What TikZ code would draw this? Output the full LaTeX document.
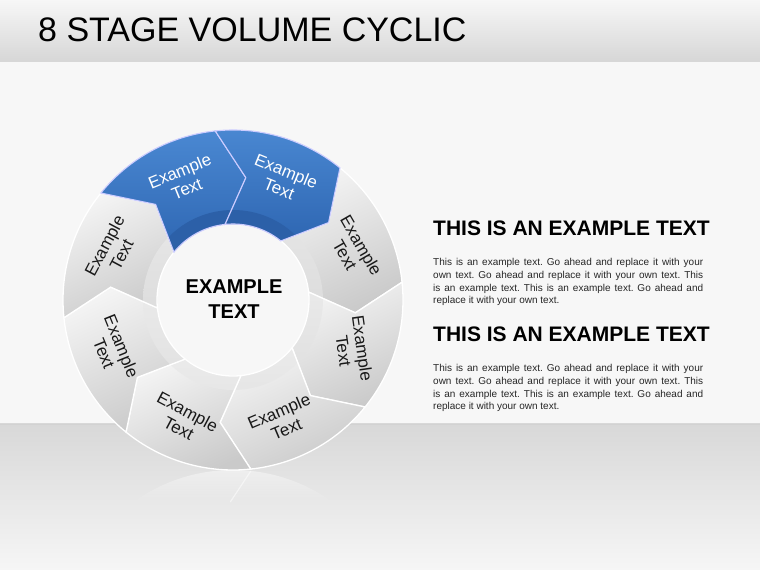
\documentclass[tikz,border=0pt]{standalone}
\usepackage{fontspec}
\setmainfont{Liberation Sans}
\usepackage{xcolor}
\usepackage{tikz}
\usetikzlibrary{calc,fadings}
\frenchspacing
\definecolor{bluehi}{HTML}{4A88D2}
\definecolor{bluelo}{HTML}{2E66B2}
\definecolor{bluebev}{HTML}{2C60A8}
\definecolor{grayhi}{HTML}{F4F4F4}
\definecolor{graylo}{HTML}{CACACA}
\definecolor{graybev}{HTML}{DCDCDC}
\definecolor{barhi}{HTML}{F7F7F7}
\definecolor{barlo}{HTML}{D6D6D6}
\definecolor{floorhi}{HTML}{D8D8D8}
\definecolor{floorlo}{HTML}{F6F6F6}
\definecolor{bodygray}{HTML}{262626}
\def\Ro{170} \def\Ri{76} \def\Rb{90} \def\Rm{123} \def\dd{6}
\tikzset{
  ringseg/.style={insert path={({#1+\dd}:\Ro) arc[start angle={#1+\dd}, end angle={#1-45+\dd}, radius=\Ro]
    -- ({#1-45-\dd}:\Rm) -- ({#1-45+\dd}:\Ri)
    arc[start angle={#1-45+\dd}, end angle={#1+\dd}, radius=\Ri] -- ({#1-\dd}:\Rm) -- cycle}},
  seglabel/.style={align=center, inner sep=0, font=\fontsize{17}{19}\selectfont},
  headtext/.style={anchor=base west, inner sep=0, font=\bfseries\fontsize{21}{24}\selectfont},
  bodytext/.style={anchor=base west, inner sep=0, text width=270pt, align=justify,
    text=bodygray, font=\fontsize{10}{12.6}\selectfont}
}

\begin{document}
\begin{tikzpicture}[x=1pt, y=1pt]
\useasboundingbox (0,0) rectangle (760,570);
% backdrop
\fill[white!97!black] (0,0) rectangle (760,570);
\shade[top color=barhi, bottom color=barlo] (0,508) rectangle (760,570);
\shade[top color=floorhi, bottom color=floorlo] (0,0) rectangle (760,146);
\draw[gray!35] (0,146) -- (760,146);
\node[anchor=base west, inner sep=0, font=\fontsize{34}{40}\selectfont] (title) at (38,528) {8 STAGE VOLUME CYCLIC};

\begin{scope}[shift={(233,270)}]
% faint reflection on the floor
\begin{scope}
\clip (0,-340) circle (\Ro);
\fill[white, opacity=0.45, path fading=south] (-200,-170) rectangle (200,-202);
\draw[white, opacity=0.5, line width=1.2] (17.8,-171) -- (-2.7,-202);
\end{scope}
% grey stages
\foreach \s/\t/\r [count=\k from 3] in {45/22.5/-60, 0/-22.5/-82, -45/-67.5/23, -90/-112.5/-28, -135/-157.5/-68, -180/157.5/62} {
  \shade[top color=grayhi, bottom color=graylo, shading angle=25, ringseg=\s];
  \begin{scope}
    \clip (0,0) circle (\Rb);
    \shade[top color=white!92!black, bottom color=graybev, ringseg=\s];
  \end{scope}
  \draw[white, line width=1.3, ringseg=\s];
  \node[seglabel, text=black!90, rotate=\r] (s\k) at (\t:130) {Example\\Text};
}
% blue stages
\foreach \s/\t/\r [count=\k] in {135/112.5/22, 90/67.5/-22} {
  \shade[top color=bluehi, bottom color=bluelo, ringseg=\s];
  \begin{scope}
    \clip (0,0) circle (\Rb);
    \fill[bluebev, ringseg=\s];
  \end{scope}
  \draw[white!80!blue, line width=1.1, ringseg=\s];
  \node[seglabel, text=white, rotate=\r] (s\k) at (\t:130) {Example\\Text};
}
\node[align=center, inner sep=0, font=\bfseries\fontsize{20}{25}\selectfont] (hub) at (1,1) {EXAMPLE\\TEXT};
\end{scope}

% side text
\node[headtext] (head1) at (433,334) {THIS IS AN EXAMPLE TEXT};
\node[bodytext] (body1) at (433,304) {This is an example text. Go ahead and replace it with your\linebreak own text. Go ahead and replace it with your own text. This\linebreak is an example text. This is an example text. Go ahead and\linebreak replace it with your own text.};
\node[headtext] (head2) at (433,228) {THIS IS AN EXAMPLE TEXT};
\node[bodytext] (body2) at (433,198) {This is an example text. Go ahead and replace it with your\linebreak own text. Go ahead and replace it with your own text. This\linebreak is an example text. This is an example text. Go ahead and\linebreak replace it with your own text.};
\end{tikzpicture}
\end{document}
